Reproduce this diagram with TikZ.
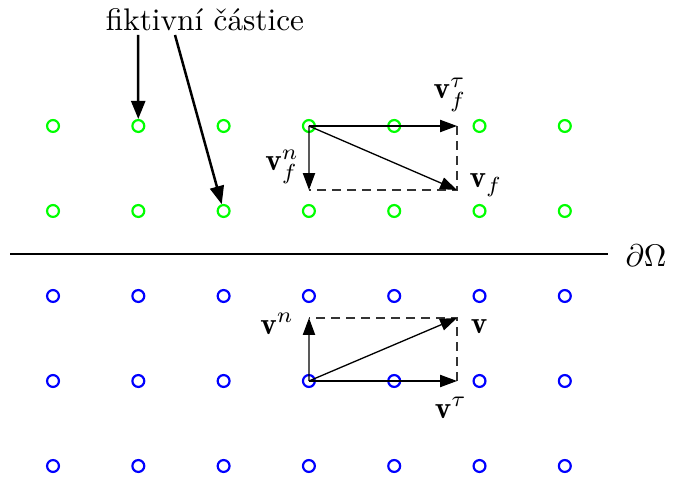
\documentclass[tikz,border=0pt]{standalone}
\usepackage{fontspec}
\usetikzlibrary{arrows.meta,positioning}

\begin{document}
\begin{tikzpicture}[
    x=0.32pt, y=-0.32pt,
    gdot/.style={circle, draw=green, line width=0.7pt, minimum size=3.8pt, inner sep=0pt},
    bdot/.style={circle, draw=blue, line width=0.7pt, minimum size=3.8pt, inner sep=0pt},
    vec/.style={-{Triangle[length=5.4pt, width=3.9pt]}, line width=0.42pt},
    annot/.style={-{Triangle[length=5.8pt, width=4.5pt]}, line width=0.8pt},
    aux/.style={dash pattern=on 2.9pt off 1.9pt, line width=0.4pt, draw=black!80},
    lbl/.style={inner sep=0pt}
]
    \useasboundingbox (0,0) rectangle (678,485);

    % particles
    \foreach \i in {1,...,7} {
        \foreach \j/\y in {1/126, 2/211}
            \node[gdot] (g\i\j) at ({53+85.3*(\i-1)},\y) {};
        \foreach \j/\y in {1/296, 2/381, 3/466}
            \node[bdot] (b\i\j) at ({53+85.3*(\i-1)},\y) {};
    }

    % boundary
    \coordinate (bl) at (10,254);
    \coordinate (br) at (608,254);
    \draw[line width=0.4pt] (bl) -- (br);
    \node[lbl] (bnd) at (646,256) {$\partial\Omega$};

    % fictitious particles label
    \node[lbl] (fict) at (205,20) {fiktivní částice};
    \coordinate (f1) at (138,35);
    \coordinate (f2) at (175,35);
    \draw[annot] (f1) -- (g21);
    \draw[annot] (f2) -- (g32);

    % upper vectors
    \coordinate (ft) at (457,126);
    \coordinate (fn) at (309,190);
    \coordinate (fv) at (457,190);
    \draw[aux] (ft) -- (fv) -- (fn);
    \draw[vec] (g41.center) -- (ft);
    \draw[vec] (g41.center) -- (fn);
    \draw[vec] (g41.center) -- (fv);
    \node[lbl] (vft) at (450,95) {$\mathbf{v}_f^\tau$};
    \node[lbl] (vfn) at (282,167) {$\mathbf{v}_f^n$};
    \node[lbl] (vf) at (486,185) {$\mathbf{v}_f$};

    % lower vectors
    \coordinate (bt) at (457,381);
    \coordinate (bn) at (309,318);
    \coordinate (bv) at (457,318);
    \draw[aux] (bt) -- (bv) -- (bn);
    \draw[vec] (b42.center) -- (bt);
    \draw[vec] (b42.center) -- (bn);
    \draw[vec] (b42.center) -- (bv);
    \node[lbl] (vbt) at (451,408) {$\mathbf{v}^\tau$};
    \node[lbl] (vbn) at (277,324) {$\mathbf{v}^n$};
    \node[lbl] (vb) at (479,327) {$\mathbf{v}$};
\end{tikzpicture}
\end{document}
